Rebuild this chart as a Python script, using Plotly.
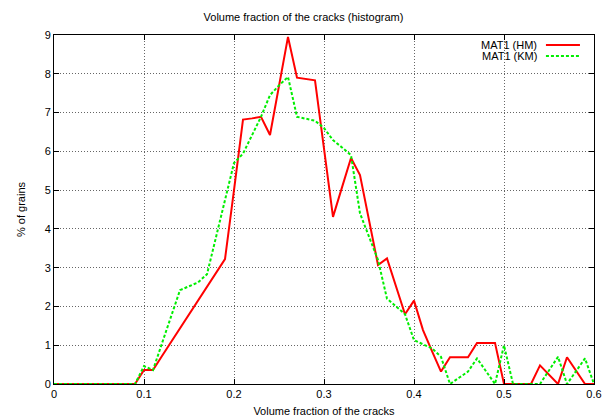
import plotly.graph_objects as go

x_vals = [round(i * 0.01, 2) for i in range(61)]

hm_vals = [0, 0, 0, 0, 0, 0, 0, 0, 0, 0,
           0.36, 0.36, 0.72, 1.08, 1.44, 1.80, 2.15, 2.50, 2.86, 3.22,
           5.00, 6.82, 6.85, 6.89, 6.42, 7.68, 8.95, 7.90, 7.86, 7.83,
           6.07, 4.31, 5.07, 5.83, 5.39, 4.23, 3.07, 3.24, 2.50, 1.80,
           2.15, 1.39, 0.85, 0.32, 0.69, 0.69, 0.69, 1.06, 1.06, 1.06,
           0, 0, 0, 0, 0.48, 0.24, 0, 0.69, 0.35, 0,
           0]

km_vals = [0, 0, 0, 0, 0, 0, 0, 0, 0, 0,
           0.46, 0.36, 1.05, 1.74, 2.42, 2.52, 2.62, 2.83, 3.80, 4.75,
           5.70, 5.94, 6.40, 6.89, 7.45, 7.70, 7.92, 6.89, 6.84, 6.79,
           6.60, 6.29, 6.10, 5.90, 4.40, 3.80, 3.20, 2.20, 2.00, 1.80,
           1.13, 1.03, 0.92, 0.70, 0, 0.16, 0.32, 0.66, 0.33, 0,
           1.00, 0, 0, 0, 0, 0.35, 0.70, 0, 0.33, 0.66,
           0]

series_names = ["MAT1 (HM)", "MAT1 (KM)"]
series_colors = ["#ff0000", "#00ee00"]
series_dash = ["solid", "3px,2px"]

x_ticks = [0, 0.1, 0.2, 0.3, 0.4, 0.5, 0.6]
x_tick_labels = ["0", "0.1", "0.2", "0.3", "0.4", "0.5", "0.6"]
y_ticks = list(range(10))

FONT = "Liberation Sans, Arial, sans-serif"

fig = go.Figure()
for name, vals, col, dash in zip(series_names, [hm_vals, km_vals], series_colors, series_dash):
    fig.add_trace(go.Scatter(x=x_vals, y=vals, mode="lines", name=name,
                             line=dict(color=col, width=2, dash=dash)))

# gnuplot-style legend (text then line sample)
leg_y = [0.971, 0.940]
for name, col, dash, yy in zip(series_names, series_colors, series_dash, leg_y):
    fig.add_annotation(xref="paper", yref="paper", x=0.898, y=yy, text=name,
                       showarrow=False, xanchor="right", yanchor="middle",
                       font=dict(family=FONT, size=11, color="black"))
    fig.add_shape(type="line", xref="paper", yref="paper", x0=0.911, x1=0.974,
                  y0=yy, y1=yy, line=dict(color=col, width=2, dash=dash))

axis_common = dict(showline=True, linecolor="black", linewidth=1, mirror="allticks",
                   ticks="inside", ticklen=5, tickcolor="black", automargin=False,
                   showgrid=True, gridcolor="#666666", griddash="1px,2px", gridwidth=1,
                   zeroline=False, tickfont=dict(family=FONT, size=11, color="black"))

fig.update_layout(
    width=607, height=420,
    margin=dict(l=54, r=13, t=35, b=36, autoexpand=False),
    paper_bgcolor="white", plot_bgcolor="white",
    showlegend=False,
    title=dict(text="Volume fraction of the cracks (histogram)", x=0.5, xanchor="center",
               y=1 - 17 / 420, yanchor="middle", automargin=False,
               font=dict(family=FONT, size=11, color="black")),
    xaxis=dict(range=[0, 0.6], tickvals=x_ticks, ticktext=x_tick_labels,
               title=dict(text="Volume fraction of the cracks", standoff=8,
                          font=dict(family=FONT, size=11, color="black")),
               **axis_common),
    yaxis=dict(range=[0, 9], tickvals=y_ticks,
               title=dict(text="% of grains", standoff=16,
                          font=dict(family=FONT, size=11, color="black")),
               **axis_common),
)

fig.write_html("out.html", config={"displayModeBar": False},
               post_script="document.body.style.margin='0px';document.body.style.overflow='hidden';")
